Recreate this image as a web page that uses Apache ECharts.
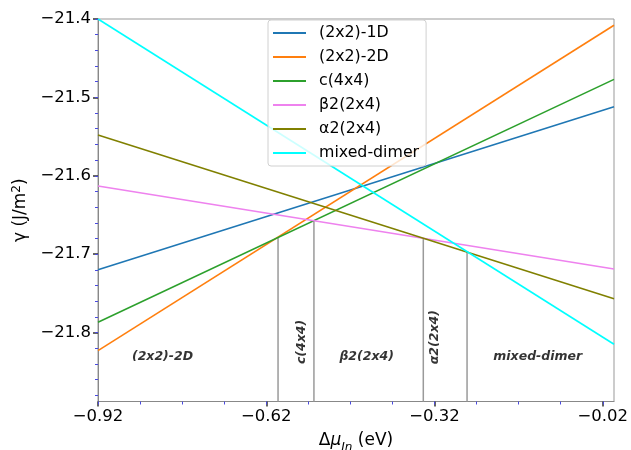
<!DOCTYPE html>
<html>
<head>
<meta charset="utf-8">
<script src="https://cdn.jsdelivr.net/npm/echarts@6/dist/echarts.min.js"></script>
<style>html,body{margin:0;padding:0;background:#fff}#c{width:631px;height:450px}</style>
</head>
<body>
<div id="c"></div>
<script>
// ---- data ----
const seriesNames = ['(2x2)-1D', '(2x2)-2D', 'c(4x4)', 'β2(2x4)', 'α2(2x4)', 'mixed-dimer'];
const xEnds = [-0.92, 0.0];
const line1D = [-21.720, -21.512];
const line2D = [-21.823, -21.408];
const lineC44 = [-21.787, -21.477];
const lineBeta2 = [-21.613, -21.719];
const lineAlpha2 = [-21.548, -21.757];
const lineMixed = [-21.400, -21.815];
const boundaryX = [-0.599, -0.535, -0.340, -0.262];
const boundaryTopY = [-21.679, -21.657, -21.680, -21.697];
const regionNames = ['(2x2)-2D', 'c(4x4)', 'β2(2x4)', 'α2(2x4)', 'mixed-dimer'];
const regionX = [-0.805, -0.557, -0.441, -0.319, -0.136];
const regionY = [-21.831, -21.812, -21.831, -21.806, -21.831];
const regionRotate = [0, 90, 0, 90, 0];
const xTickLabels = [-0.92, -0.62, -0.32, -0.02];
const yTickLabels = [-21.4, -21.5, -21.6, -21.7, -21.8];
const xMin = -0.92, xMax = 0.0, yMin = -21.888, yMax = -21.4;

const colors = ['#1f77b4', '#ff7f0e', '#2ca02c', '#ee82ee', '#808000', '#00ffff'];
const lineValues = [line1D, line2D, lineC44, lineBeta2, lineAlpha2, lineMixed];

// minor tick positions
const xMinor = [];
for (let k = 0; k * 0.075 <= 0.92 + 1e-9; k++) xMinor.push(+(xMin + k * 0.075).toFixed(4));
const yMinor = [];
for (let k = 0; k * 0.02 <= 0.48 + 1e-9; k++) yMinor.push(+(-21.88 + k * 0.02).toFixed(4));

const minus = v => String(v).replace('-', '\u2212');

const series = [];
lineValues.forEach((vals, i) => {
  series.push({
    name: seriesNames[i], type: 'line', symbol: 'none', silent: true,
    lineStyle: { color: colors[i], width: 1.6 }, itemStyle: { color: colors[i] },
    data: xEnds.map((x, j) => [x, vals[j]]), z: 3
  });
});
boundaryX.forEach((x, i) => {
  series.push({
    name: 'b' + i, type: 'line', symbol: 'none', silent: true,
    lineStyle: { color: '#9a9a9a', width: 1.5 },
    data: [[x, yMin], [x, boundaryTopY[i]]], z: 2
  });
});
series.push({
  type: 'scatter', symbolSize: 0, silent: true,
  data: regionNames.map((n, i) => ({
    name: n, value: [regionX[i], regionY[i]],
    label: { rotate: regionRotate[i] }
  })),
  label: {
    show: true, position: 'inside', formatter: p => p.name,
    fontFamily: 'DejaVu Sans', fontSize: 12.5, fontWeight: 'bold', fontStyle: 'italic', color: '#000'
  }
});

const axisFont = { fontFamily: 'DejaVu Sans', fontSize: 16.5, color: '#000' };

const option = {
  animation: false,
  backgroundColor: '#fff',
  grid: { left: 98, right: 17, top: 19, bottom: 48.5, outerBoundsMode: 'none', containLabel: false, show: true, borderColor: '#999', borderWidth: 1, backgroundColor: 'transparent' },
  legend: {
    data: seriesNames, orient: 'vertical', left: 268, top: 20,
    icon: 'rect', itemWidth: 33, itemHeight: 2, itemGap: 8,
    padding: [5, 7, 5, 5],
    backgroundColor: 'rgba(255,255,255,0.8)', borderColor: '#d0d0d0', borderWidth: 1, borderRadius: 3,
    textStyle: { fontFamily: 'DejaVu Sans', fontSize: 15.8, color: '#000', lineHeight: 16, padding: [0, 0, 0, 8] },
    selectedMode: false
  },
  xAxis: [{
    type: 'value', min: xMin, max: xMax,
    name: '{a|Δ}{i|μ}{s|In}{a| (eV)}', nameLocation: 'middle', nameGap: 31,
    nameTextStyle: {
      rich: {
        a: { fontFamily: 'DejaVu Sans', fontSize: 17, color: '#000', verticalAlign: 'bottom', padding: [0, 0, 4, 0] },
        i: { fontFamily: 'DejaVu Sans', fontSize: 17, fontStyle: 'italic', color: '#000', verticalAlign: 'bottom', padding: [0, 0, 4, 0] },
        s: { fontFamily: 'DejaVu Sans', fontSize: 12, fontStyle: 'italic', color: '#000', verticalAlign: 'bottom' }
      }
    },
    axisLine: { show: true, onZero: false, lineStyle: { color: '#888', width: 1 } },
    axisTick: { show: true, customValues: xTickLabels, length: 5, lineStyle: { color: '#333', width: 1.5 } },
    axisLabel: { customValues: xTickLabels, formatter: v => minus(v.toFixed(2)), margin: 7, ...axisFont },
    splitLine: { show: false }
  }, {
    type: 'value', min: xMin, max: xMax, position: 'bottom',
    axisLine: { show: false, onZero: false },
    axisTick: { show: true, customValues: xMinor, length: 3, lineStyle: { color: '#4a4ae0', width: 1 } },
    axisLabel: { show: false }, splitLine: { show: false }
  }],
  yAxis: [{
    type: 'value', min: yMin, max: yMax,
    name: '{a|γ (J/m}{b|2}{a|)}', nameLocation: 'middle', nameGap: 61,
    nameTextStyle: {
      rich: {
        a: { fontFamily: 'DejaVu Sans', fontSize: 17, color: '#000', verticalAlign: 'bottom' },
        b: { fontFamily: 'DejaVu Sans', fontSize: 12, color: '#000', verticalAlign: 'bottom', padding: [0, 0, 7, 0] }
      }
    },
    axisLine: { show: true, onZero: false, lineStyle: { color: '#888', width: 1 } },
    axisTick: { show: true, customValues: yTickLabels, length: 5, lineStyle: { color: '#333', width: 1.5 } },
    axisLabel: { customValues: yTickLabels, formatter: v => minus(v.toFixed(1)), margin: 7, ...axisFont },
    splitLine: { show: false }
  }, {
    type: 'value', min: yMin, max: yMax, position: 'left',
    axisLine: { show: false, onZero: false },
    axisTick: { show: true, customValues: yMinor, length: 3, lineStyle: { color: '#4a4ae0', width: 1 } },
    axisLabel: { show: false }, splitLine: { show: false }
  }],
  series: series
};

const chart = echarts.init(document.getElementById('c'), null, { renderer: 'canvas' });
chart.setOption(option);
</script>
</body>
</html>
